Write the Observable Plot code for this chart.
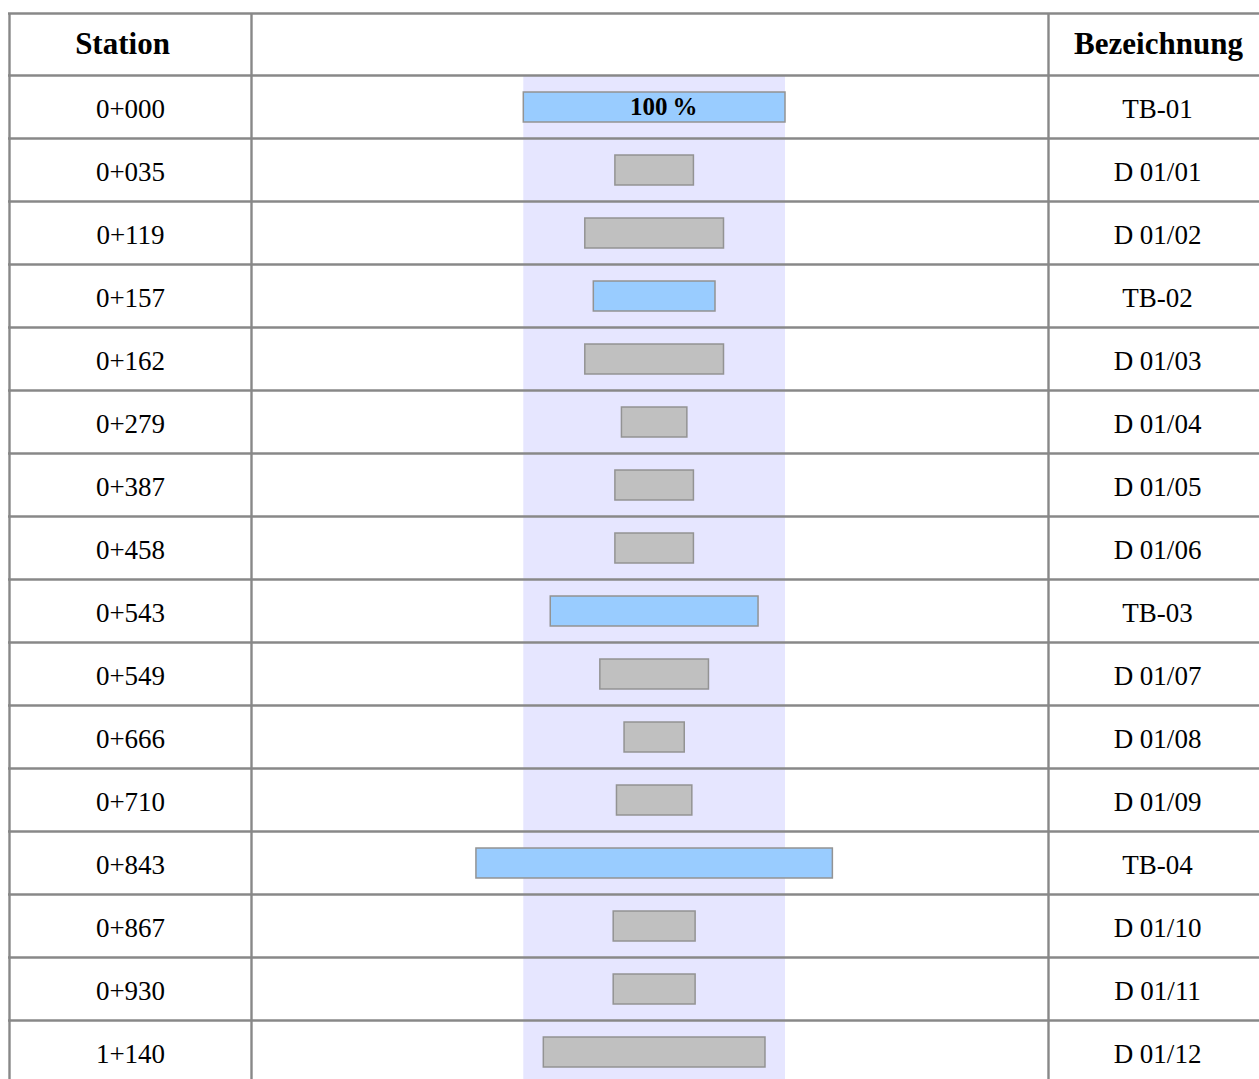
<!DOCTYPE html>
<html>
<head>
<meta charset="utf-8">
<script src="https://cdn.jsdelivr.net/npm/d3@7"></script>
<script src="https://cdn.jsdelivr.net/npm/@observablehq/plot@0.6"></script>
<style>
  html, body { margin: 0; padding: 0; background: #ffffff; }
  #chart svg { display: block; }
</style>
</head>
<body>
<div id="chart"></div>
<script>
// ---- data ----
const stations = ["0+000","0+035","0+119","0+157","0+162","0+279","0+387","0+458",
                  "0+543","0+549","0+666","0+710","0+843","0+867","0+930","1+140"];
const labels = ["TB-01","D 01/01","D 01/02","TB-02","D 01/03","D 01/04","D 01/05","D 01/06",
                "TB-03","D 01/07","D 01/08","D 01/09","TB-04","D 01/10","D 01/11","D 01/12"];
const percents = [100, 30, 53, 46.5, 53, 25, 30, 30, 79.4, 41.5, 23, 28.8, 136.2, 31.3, 31.3, 84.7];
const headers = ["Station", "", "Bezeichnung"];
const referencePercent = 100;
const referenceLabel = "100\u2009%";

const rows = stations.map((s, i) => ({
  i, station: s, label: labels[i], pct: percents[i], tb: labels[i].startsWith("TB")
}));

// ---- layout (pixels) ----
const W = 1259, H = 1079;
const rowH = 63, firstRowTop = 75, headerH = 62;
const bandLeft = 523.3, bandRight = 785;
const pxPerPct = (bandRight - bandLeft) / referencePercent;
const centerPx = (bandLeft + bandRight) / 2;
const toPct = px => (px - centerPx) / pxPerPct;
const colEdgesPx = [9, 251, 1048];
const tableRightPx = 1275;
const stationColPx = 130, labelColPx = 1157;
const stationHeadPx = 122, labelHeadPx = 1158;

const headerTop = -headerH / rowH;
const rowLines = d3.range(0, rows.length + 1);
const lineColor = "#888888";

const chart = Plot.plot({
  width: W,
  height: H,
  margin: 0,
  x: {domain: [-referencePercent / 2, referencePercent / 2], range: [bandLeft, bandRight], axis: null},
  y: {domain: [-firstRowTop / rowH, (H - firstRowTop) / rowH], range: [0, H], axis: null},
  style: {fontFamily: "'Liberation Serif', 'Times New Roman', serif", background: "#ffffff", overflow: "visible"},
  marks: [
    // 100 % reference band
    Plot.rect([referencePercent], {
      x1: d => -d / 2, x2: d => d / 2, y1: 0, y2: rows.length + 1, fill: "#e6e6ff"
    }),
    // table grid
    Plot.ruleY([headerTop, ...rowLines], {
      y: d => d, x1: toPct(colEdgesPx[0] - 1), x2: toPct(tableRightPx), stroke: lineColor, strokeWidth: 2.4
    }),
    Plot.ruleX(colEdgesPx.map(toPct), {
      x: d => d, y1: headerTop, y2: rows.length + 1, stroke: lineColor, strokeWidth: 2.4
    }),
    // bars
    Plot.rect(rows, {
      x1: d => -d.pct / 2, x2: d => d.pct / 2,
      y1: d => d.i + 0.5 - 0.238 + 0.008, y2: d => d.i + 0.5 + 0.238 + 0.008,
      fill: d => d.tb ? "#99ccff" : "#c0c0c0",
      stroke: "#939393", strokeWidth: 1.5
    }),
    // reference label
    Plot.text([rows[0]], {
      x: 0, y: d => d.i + 0.5, text: () => referenceLabel, dx: 9, dy: 0,
      fontSize: 25, fontWeight: "bold", fill: "#000"
    }),
    // headers
    Plot.text([headers[0]], {
      x: toPct(stationHeadPx), y: headerTop / 2, text: d => d, fontSize: 31, fontWeight: "bold", fill: "#000"
    }),
    Plot.text([headers[2]], {
      x: toPct(labelHeadPx), y: headerTop / 2, text: d => d, fontSize: 31, fontWeight: "bold", fill: "#000"
    }),
    // station column
    Plot.text(rows, {
      x: toPct(stationColPx), y: d => d.i + 0.5, text: "station", dy: 2, fontSize: 27, fill: "#000"
    }),
    // label column
    Plot.text(rows, {
      x: toPct(labelColPx), y: d => d.i + 0.5, text: "label", dy: 2, fontSize: 27, fill: "#000"
    })
  ]
});

document.getElementById("chart").appendChild(chart);
</script>
</body>
</html>
